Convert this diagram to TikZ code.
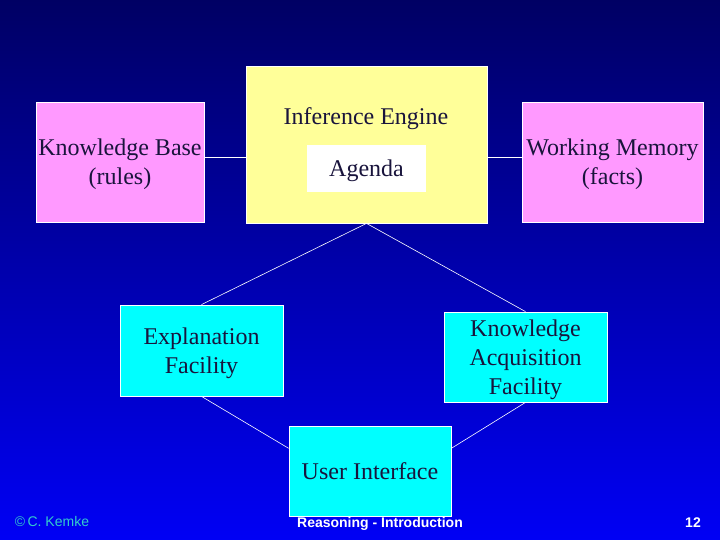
\documentclass[tikz,border=0pt]{standalone}
\usepackage{fontspec}
\setmainfont{Liberation Serif}
\setsansfont{Liberation Sans}
\usepackage{tikz}
\usetikzlibrary{positioning}
\usetikzlibrary{calc}

\definecolor{BgTop}{RGB}{0,0,100}
\definecolor{BgMid}{RGB}{0,0,215}
\definecolor{BgBot}{RGB}{0,0,245}
\definecolor{EngineYellow}{RGB}{255,255,153}
\definecolor{StorePink}{RGB}{255,153,255}
\definecolor{FacilityCyan}{RGB}{0,255,255}
\definecolor{BoxText}{RGB}{25,20,60}
\definecolor{NoteTeal}{RGB}{51,204,204}

\begin{document}
\begin{tikzpicture}[x=1bp, y=-1bp,
	box/.style={draw=white, line width=0.8bp, text=BoxText, align=center,
		inner sep=0pt, text depth=0pt, font=\fontsize{24bp}{29bp}\selectfont},
	link/.style={draw=white, line width=0.6bp},
	footer/.style={font=\sffamily\fontsize{14bp}{16bp}\selectfont, anchor=base}]

	% ------------------------------------------------
	% Page and background
	\useasboundingbox (0,0) rectangle (720,540);
	\shade[top color=BgTop, middle color=BgMid, bottom color=BgBot] (0,0) rectangle (720,540);

	% ------------------------------------------------
	% Relevant coordinates
	\coordinate (EngineC)  at (366.5,144.5);
	\coordinate (KBaseC)   at (120,162);
	\coordinate (WMemC)    at (612.5,162);
	\coordinate (ExplainC) at (201.5,350.5);
	\coordinate (AcquireC) at (525.5,357);
	\coordinate (UserC)    at (370,471);

	% ----------------
	% Boxes
	\node[box, fill=EngineYellow, minimum width=241bp, minimum height=157bp] (Engine) at (EngineC) {};
	\node[text=BoxText, text depth=0pt, font=\fontsize{24bp}{29bp}\selectfont] (EngineTitle) at (366,116) {Inference Engine};
	\node[box, draw=none, fill=white, minimum width=119bp, minimum height=47bp] (Agenda) at (366.5,168.5) {Agenda};

	\node[box, fill=StorePink, minimum width=168bp, minimum height=120bp] (KBase) at (KBaseC) {Knowledge Base\\(rules)};
	\node[box, fill=StorePink, minimum width=181bp, minimum height=120bp] (WMem) at (WMemC) {Working Memory\\(facts)};

	\node[box, fill=FacilityCyan, minimum width=163bp, minimum height=91bp] (Explain) at (ExplainC) {Explanation\\Facility};
	\node[box, fill=FacilityCyan, minimum width=163bp, minimum height=90bp] (Acquire) at (AcquireC) {Knowledge\\Acquisition\\Facility};
	\node[box, fill=FacilityCyan, minimum width=162bp, minimum height=90bp] (User) at (UserC) {User Interface};

	% ----------------
	% Connections
	\draw[link] ([yshift=5bp]KBase.east) -- ([yshift=5bp]KBase.east -| Engine.west);
	\draw[link] ([yshift=5bp]WMem.west) -- ([yshift=5bp]WMem.west -| Engine.east);
	\draw[link] (Engine.south) -- (Explain.north);
	\draw[link] (Engine.south) -- (Acquire.north);
	\draw[link] (Explain.south) -- ($(User.north west)!0.25!(User.south west)$);
	\draw[link] (Acquire.south) -- ($(User.north east)!0.25!(User.south east)$);

	% ------------------------------------------------
	% Footer
	\node[footer, text=NoteTeal] (Author) at (52,526) {\textcopyright\,C. Kemke};
	\node[footer, text=white, font=\sffamily\bfseries\fontsize{14bp}{16bp}\selectfont] (Title) at (380,527) {Reasoning - Introduction};
	\node[footer, text=white, font=\sffamily\bfseries\fontsize{14bp}{16bp}\selectfont] (Page) at (693,527) {12};

\end{tikzpicture}
\end{document}
